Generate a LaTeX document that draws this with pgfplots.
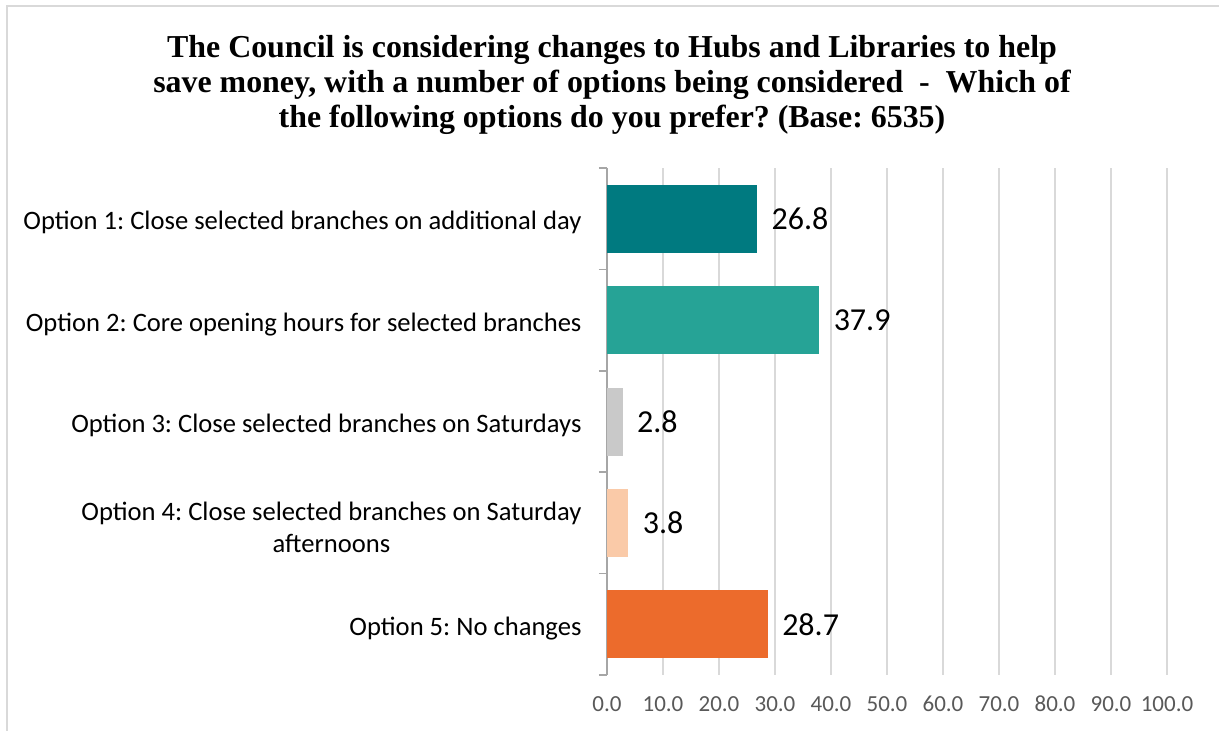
\documentclass[border=0pt]{standalone}
\usepackage{fontspec}
\setmainfont{Carlito}
\newfontfamily\titlefont{Liberation Serif}
\usepackage{pgfplots}
\pgfplotsset{compat=1.18}
\definecolor{cA}{HTML}{007A80}
\definecolor{cB}{HTML}{26A396}
\definecolor{cC}{HTML}{C9C9C9}
\definecolor{cD}{HTML}{FACAA8}
\definecolor{cE}{HTML}{EC6B2C}
\definecolor{gridc}{HTML}{D9D9D9}
\definecolor{axgray}{HTML}{A6A6A6}
\definecolor{tickc}{HTML}{595959}
\definecolor{borderc}{HTML}{D9D9D9}
\frenchspacing
\begin{document}
\begin{tikzpicture}[x=1pt,y=1pt]
\path[use as bounding box] (0,0) rectangle (1219,731);
\clip (0,0) rectangle (1219,731);
\fill[white] (0,0) rectangle (1219,731);
\draw[color=borderc, line width=1.5pt] (7,-20) -- (7,725) -- (1240,725);
\node[font=\titlefont\bfseries\fontsize{31.9}{35}\selectfont, align=center] at (612,646)
 {The Council is considering changes to Hubs and Libraries to help\\
  save money, with a number of options being considered\ \ -\ \ Which of\\
  the following options do you prefer? (Base: 6535)};
\begin{axis}[
  at={(607pt,56pt)}, anchor=south west, scale only axis,
  width=560pt, height=507pt,
  xbar, bar width=68pt, bar shift=0pt,
  xmin=0, xmax=100, xtick={0,10,...,100},
  ymin=0.5, ymax=5.5, y dir=reverse,
  ytick={1,2,3,4,5},
  yticklabels={Option 1: Close selected branches on additional day,
               Option 2: Core opening hours for selected branches,
               Option 3: Close selected branches on Saturdays,
               {Option 4: Close selected branches on Saturday\\afternoons},
               Option 5: No changes},
  minor ytick={0.5,1.5,2.5,3.5,4.5,5.5},
  major tick length=0pt, minor tick length=8pt, tick align=outside,
  ytick pos=left, xtick pos=bottom,
  tick style={draw=axgray, line width=1.5pt},
  minor tick style={draw=axgray, line width=1.5pt},
  axis lines*=left, axis line style={-},
  x axis line style={draw=none},
  y axis line style={draw=axgray, line width=1.5pt},
  xmajorgrids, major grid style={draw=gridc, line width=1.5pt},
  /pgf/number format/assume math mode=true,
  xticklabel={\pgfmathprintnumber[fixed,fixed zerofill,precision=1]{\tick}},
  xticklabel style={font=\fontsize{23}{28}\selectfont, text=tickc, text height=15pt, text depth=0pt, yshift=-18pt},
  yticklabel style={font=\fontsize{26.6}{32}\selectfont, align=center, xshift=-22pt, yshift=-4pt, text=black},
  nodes near coords={\pgfmathprintnumber[fixed,fixed zerofill,precision=1]{\pgfplotspointmeta}},
  nodes near coords style={font=\fontsize{32}{38}\selectfont, text=black, xshift=11pt},
  point meta=x,
]
\addplot[fill=cA, draw=none] coordinates {(26.8,1)};
\addplot[fill=cB, draw=none] coordinates {(37.9,2)};
\addplot[fill=cC, draw=none] coordinates {(2.8,3)};
\addplot[fill=cD, draw=none] coordinates {(3.8,4)};
\addplot[fill=cE, draw=none] coordinates {(28.7,5)};
\end{axis}
\end{tikzpicture}
\end{document}
